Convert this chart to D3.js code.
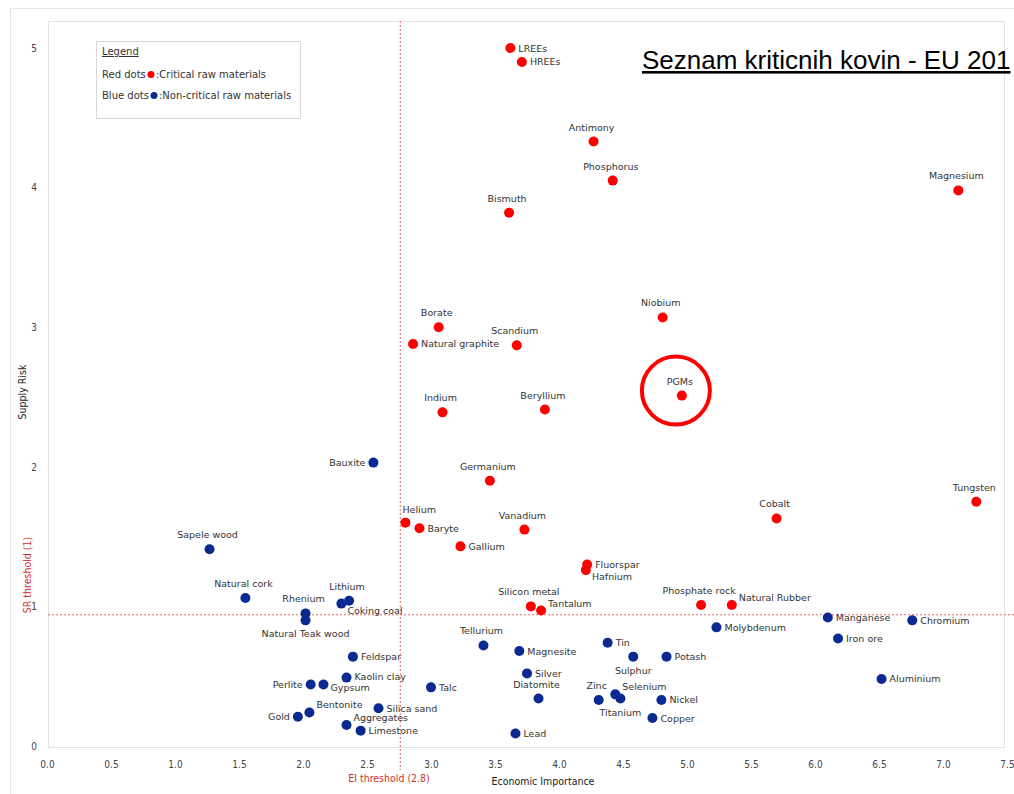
<!DOCTYPE html>
<html>
<head>
<meta charset="utf-8">
<script src="https://cdn.jsdelivr.net/npm/d3@7"></script>
<style>
  body { margin: 0; background: #fff; }
  svg { display: block; }
  .tick text { font-family: "Liberation Sans Narrow", "DejaVu Sans Condensed", sans-serif; font-size: 10px; fill: #444; }
  .lbl { font-family: "DejaVu Sans", Verdana, sans-serif; font-size: 9.5px; fill: #333; }
</style>
</head>
<body>
<svg id="chart" width="1014" height="794"></svg>
<script>
// critical raw materials (red)
var criticalNames = ["LREEs","HREEs","Antimony","Phosphorus","Magnesium","Bismuth","Niobium","Borate",
  "Natural graphite","Scandium","PGMs","Indium","Beryllium","Germanium","Tungsten","Cobalt","Helium",
  "Baryte","Vanadium","Gallium","Fluorspar","Hafnium","Silicon metal","Tantalum","Phosphate rock","Natural Rubber"];
var criticalEI = [3.62,3.71,4.27,4.42,7.12,3.61,4.81,3.06,2.86,3.67,4.96,3.09,3.89,3.46,7.26,5.70,2.80,
  2.91,3.73,3.23,4.22,4.21,3.78,3.86,5.11,5.35];
var criticalSR = [5.00,4.90,4.33,4.05,3.98,3.82,3.07,3.00,2.88,2.87,2.51,2.39,2.41,1.90,1.75,1.63,1.60,
  1.56,1.55,1.43,1.30,1.26,1.00,0.97,1.01,1.01];

// non-critical raw materials (blue)
var otherNames = ["Bauxite","Sapele wood","Natural cork","Rhenium","Natural Teak wood","Lithium","Coking coal",
  "Feldspar","Kaolin clay","Perlite","Gypsum","Talc","Bentonite","Gold","Silica sand","Aggregates","Limestone",
  "Tellurium","Magnesite","Silver","Diatomite","Lead","Tin","Sulphur","Potash","Zinc","Selenium","Titanium",
  "Nickel","Copper","Molybdenum","Manganese","Chromium","Iron ore","Aluminium"];
var otherEI = [2.55,1.27,1.55,2.02,2.02,2.36,2.30,2.39,2.34,2.06,2.16,3.00,2.05,1.96,2.59,2.34,2.45,
  3.41,3.69,3.75,3.84,3.66,4.38,4.58,4.84,4.31,4.44,4.48,4.80,4.73,5.23,6.10,6.76,6.18,6.52];
var otherSR = [2.03,1.41,1.06,0.95,0.90,1.04,1.02,0.64,0.49,0.44,0.44,0.42,0.24,0.21,0.27,0.15,0.11,
  0.72,0.68,0.52,0.34,0.09,0.74,0.64,0.64,0.33,0.37,0.34,0.33,0.20,0.85,0.92,0.90,0.77,0.48];

var xTicks = d3.range(0, 7.51, 0.5);
var yTicks = [0, 1, 2, 3, 4, 5];
var eiThreshold = 2.76, srThreshold = 0.94; // where the dashed lines sit in the picture

// where each label sits around its dot
var place = {
  "LREEs":"r","HREEs":"r","Natural graphite":"r","Baryte":"r","Gallium":"r","Fluorspar":"r","Hafnium":"br",
  "Tantalum":"tr","Natural Rubber":"tr","Helium":"tl","Silicon metal":"t",
  "Bauxite":"l","Rhenium":"t","Natural Teak wood":"b","Coking coal":"br","Feldspar":"r","Kaolin clay":"ru",
  "Perlite":"l","Gypsum":"rd","Talc":"r","Bentonite":"tr","Gold":"l","Silica sand":"r","Aggregates":"tr",
  "Limestone":"r","Magnesite":"r","Silver":"r","Lead":"r","Tin":"r","Sulphur":"b","Potash":"r",
  "Selenium":"tr","Titanium":"b","Nickel":"r","Copper":"r","Molybdenum":"r","Manganese":"r",
  "Chromium":"r","Iron ore":"r","Aluminium":"r"
};

var RED = "#ff0000", BLUE = "#0a2a92";

var svg = d3.select("#chart");

var x = d3.scaleLinear().domain([0, 7.5]).range([47, 1007]);
var y = d3.scaleLinear().domain([0, 5]).range([746, 48]);

// frames
svg.append("rect").attr("x", 10.5).attr("y", 8.5).attr("width", 1010).attr("height", 800)
  .attr("fill", "none").attr("stroke", "#e6e6e6");
svg.append("rect").attr("x", 48.5).attr("y", 21.5).attr("width", 956).attr("height", 726)
  .attr("fill", "none").attr("stroke", "#e2e2e2");

// axes
var xAxis = svg.append("g").attr("transform", "translate(0,758)")
  .call(d3.axisBottom(x).tickValues(xTicks).tickFormat(d3.format(".1f")).tickSize(0));
xAxis.select(".domain").remove();

var yAxis = svg.append("g").attr("transform", "translate(40,0)")
  .call(d3.axisLeft(y).tickValues(yTicks).tickFormat(d3.format("d")).tickSize(0));
yAxis.select(".domain").remove();

// threshold lines
svg.append("line").attr("x1", x(eiThreshold)).attr("x2", x(eiThreshold)).attr("y1", 21).attr("y2", 770)
  .attr("stroke", "#d44").attr("stroke-width", 0.8).attr("stroke-dasharray", "2,2");
svg.append("line").attr("x1", 48).attr("x2", 1014).attr("y1", y(srThreshold)).attr("y2", y(srThreshold))
  .attr("stroke", "#d44").attr("stroke-width", 0.8).attr("stroke-dasharray", "2,2");

// axis titles
var axFont = "'DejaVu Sans Condensed', 'DejaVu Sans', sans-serif";
svg.append("text").attr("x", 389).attr("y", 782).attr("text-anchor", "middle")
  .attr("font-family", axFont).attr("font-size", 10.5).attr("fill", "#d03030").text("EI threshold (2.8)");
svg.append("text").attr("x", 543).attr("y", 785).attr("text-anchor", "middle")
  .attr("font-family", axFont).attr("font-size", 10.5).attr("fill", "#222").text("Economic Importance");
svg.append("text").attr("transform", "translate(31,575) rotate(-90)").attr("text-anchor", "middle")
  .attr("font-family", axFont).attr("font-size", 10.5).attr("fill", "#d03030").text("SR threshold (1)");
svg.append("text").attr("transform", "translate(26,392) rotate(-90)").attr("text-anchor", "middle")
  .attr("font-family", axFont).attr("font-size", 10.5).attr("fill", "#222").text("Supply Risk");

// points
var points = criticalNames.map(function(n, i) { return {name: n, ei: criticalEI[i], sr: criticalSR[i], color: RED}; })
  .concat(otherNames.map(function(n, i) { return {name: n, ei: otherEI[i], sr: otherSR[i], color: BLUE}; }));

svg.append("g").selectAll("circle").data(points).join("circle")
  .attr("cx", function(d) { return x(d.ei); })
  .attr("cy", function(d) { return y(d.sr); })
  .attr("r", 5)
  .attr("fill", function(d) { return d.color; });

function labelPos(d) {
  var px = x(d.ei), py = y(d.sr);
  switch (place[d.name] || "t") {
    case "r":  return [px + 8, py + 3.5, "start"];
    case "ru": return [px + 8, py + 2, "start"];
    case "rd": return [px + 7, py + 6, "start"];
    case "l":  return [px - 8, py + 3.5, "end"];
    case "b":  return [px, py + 17, "middle"];
    case "br": return [px + 6, py + 10, "start"];
    case "tr": return [px + 7, py - 4, "start"];
    case "tl": return [px - 3, py - 10, "start"];
    default:   return [px - 2, py - 11, "middle"];
  }
}

svg.append("g").selectAll("text").data(points).join("text")
  .attr("class", "lbl")
  .attr("x", function(d) { return labelPos(d)[0]; })
  .attr("y", function(d) { return labelPos(d)[1]; })
  .attr("text-anchor", function(d) { return labelPos(d)[2]; })
  .text(function(d) { return d.name; });

// highlight around PGMs
var pgm = points.find(function(d) { return d.name === "PGMs"; });
svg.append("circle").attr("cx", x(pgm.ei) - 6).attr("cy", y(pgm.sr) - 5).attr("r", 34)
  .attr("fill", "none").attr("stroke", RED).attr("stroke-width", 4);

// legend
var lg = svg.append("g").attr("font-family", "'DejaVu Sans', sans-serif").attr("font-size", 10).attr("fill", "#333");
lg.append("rect").attr("x", 96.5).attr("y", 41.5).attr("width", 204).attr("height", 77)
  .attr("fill", "#fff").attr("stroke", "#d8d8d8");
lg.append("text").attr("x", 102).attr("y", 55).attr("text-decoration", "underline").text("Legend");
lg.append("text").attr("x", 102).attr("y", 78).text("Red dots");
lg.append("circle").attr("cx", 151).attr("cy", 74.5).attr("r", 3.5).attr("fill", RED);
lg.append("text").attr("x", 156).attr("y", 78).text(":Critical raw materials");
lg.append("text").attr("x", 102).attr("y", 99).text("Blue dots");
lg.append("circle").attr("cx", 154).attr("cy", 95.5).attr("r", 3.5).attr("fill", BLUE);
lg.append("text").attr("x", 159).attr("y", 99).text(":Non-critical  raw materials");

// title overlay
svg.append("text").attr("x", 642).attr("y", 69)
  .attr("font-family", "'Liberation Sans', Arial, sans-serif").attr("font-size", 26)
  .attr("fill", "#000").attr("text-decoration", "underline")
  .text("Seznam kriticnih kovin - EU 201");
</script>
</body>
</html>
